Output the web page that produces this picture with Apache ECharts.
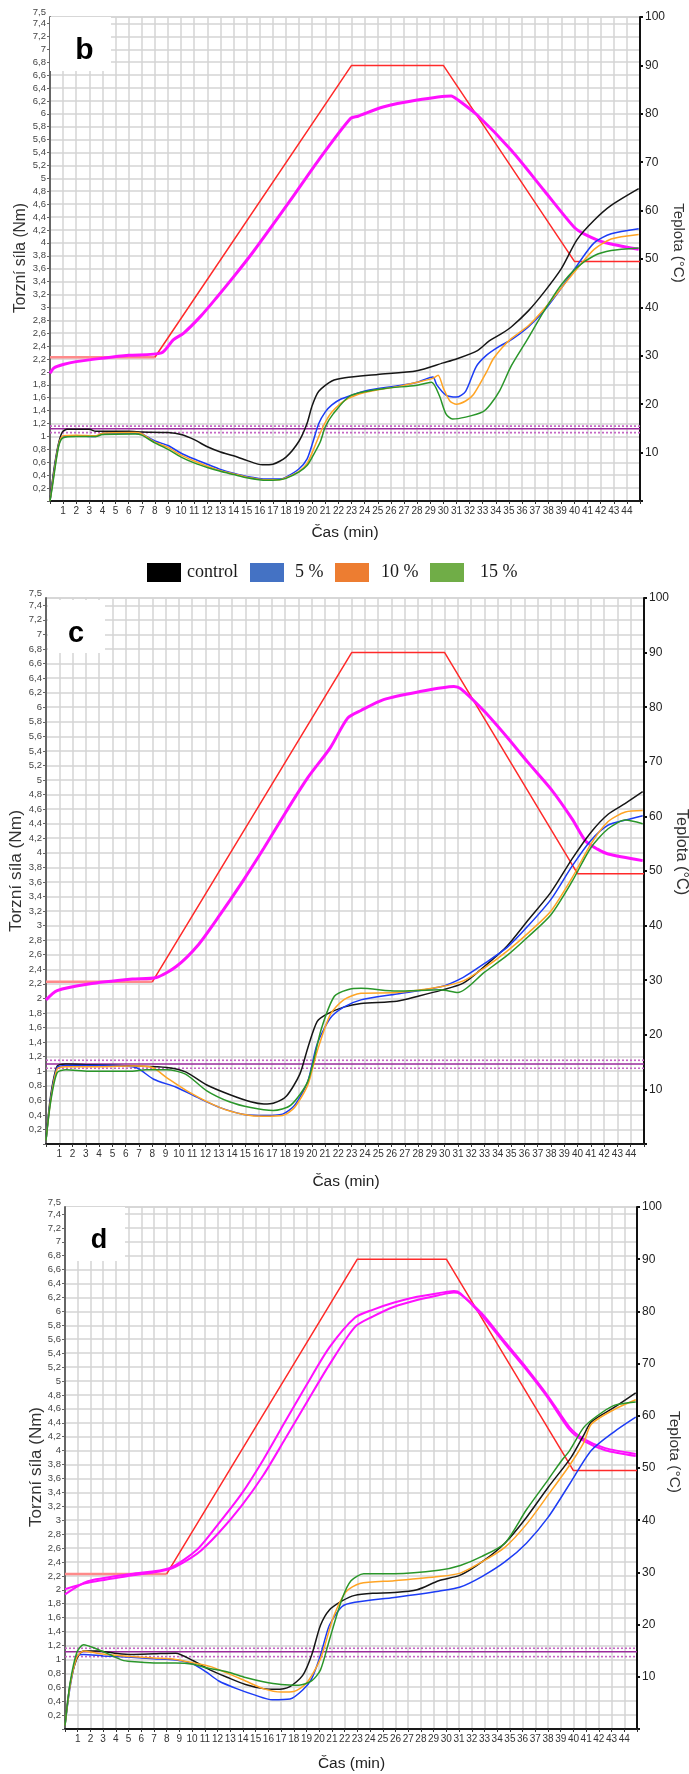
<!DOCTYPE html>
<html><head><meta charset="utf-8">
<script src="https://cdn.jsdelivr.net/npm/echarts@6/dist/echarts.min.js"></script>
<style>html,body{margin:0;padding:0;background:#fff}#c{width:689px;height:1774px}</style>
</head><body><div id="c"></div>
<script>
// ---------- DATA (time in min, torque in Nm, temperature in °C) ----------
const seriesNames = ['control', '5 %', '10 %', '15 %'];
const xMax = 45;
const torqueMax = 7.5;
const setTemp = [[8,29.7],[23,90],[30,90],[40,49.5],[45,49.5]];
const startTemp = [[0,29.7],[8,29.7]];

// panel b
const bControl = [[0,0],[0.2,0.34],[0.45,0.68],[0.7,0.93],[0.95,1.07],[1.3,1.11],[3,1.11],[3.5,1.08],[6,1.08],[7,1.07],[9,1.06],[10,1.03],[11,0.95],[12,0.84],[13,0.76],[14,0.7],[15,0.63],[16.2,0.56],[17,0.57],[18,0.68],[19,0.93],[19.6,1.2],[20,1.48],[20.5,1.7],[21.5,1.86],[22.5,1.91],[25,1.96],[28,2.02],[30,2.14],[31,2.2],[32.6,2.33],[33.5,2.48],[34.5,2.6],[35.2,2.7],[36.5,2.95],[37.7,3.24],[39,3.6],[40.2,4.05],[41.5,4.35],[42.8,4.58],[44.9,4.84]];
const bBlue = [[0,0],[0.2,0.3],[0.45,0.65],[0.7,0.9],[1,1.0],[2,1.01],[3.5,1.0],[4,1.05],[6.5,1.05],[7,1.04],[8,0.93],[9,0.86],[10,0.74],[11,0.65],[12,0.57],[13,0.49],[14,0.43],[15,0.38],[16.5,0.34],[17.5,0.34],[18,0.37],[19,0.5],[19.6,0.65],[20,0.88],[20.5,1.2],[21,1.38],[21.5,1.49],[22.2,1.58],[23,1.64],[24.1,1.71],[26.7,1.79],[28,1.84],[29.2,1.92],[29.5,1.8],[30.2,1.64],[31,1.61],[31.7,1.7],[32.5,2.08],[33.3,2.26],[34.3,2.4],[35.2,2.5],[36.5,2.7],[37.7,2.95],[39,3.3],[40.2,3.65],[41.5,4.0],[42.8,4.14],[44.9,4.22]];
const bOrange = [[0,0],[0.2,0.28],[0.45,0.63],[0.7,0.9],[1,1.01],[2,1.02],[3.5,1.01],[4,1.05],[6.5,1.06],[7,1.04],[8,0.91],[9,0.83],[10,0.71],[11,0.62],[12,0.54],[13,0.47],[14,0.42],[15,0.37],[16.5,0.33],[17.5,0.33],[18,0.36],[19,0.46],[19.6,0.58],[20,0.75],[20.5,1.0],[21,1.22],[21.5,1.38],[22.5,1.56],[24,1.68],[26.7,1.78],[28,1.84],[29.2,1.9],[29.6,1.95],[30,1.75],[30.5,1.55],[31,1.5],[31.7,1.55],[32.3,1.65],[33.3,2.0],[33.8,2.2],[34.5,2.38],[35.2,2.52],[36.5,2.72],[37.7,2.98],[39,3.3],[40.2,3.6],[41.5,3.9],[42.8,4.06],[44.9,4.13]];
const bGreen = [[0,0],[0.2,0.25],[0.45,0.6],[0.7,0.88],[1,0.98],[2,1.0],[3.5,1.0],[4,1.03],[6.5,1.04],[7,1.02],[8,0.9],[9,0.8],[10,0.68],[11,0.59],[12,0.52],[13,0.46],[14,0.41],[15,0.36],[16.5,0.32],[17.5,0.33],[18,0.35],[19,0.45],[19.6,0.55],[20,0.68],[20.6,0.91],[21,1.15],[21.6,1.35],[22.9,1.63],[25.4,1.74],[27.9,1.79],[29.1,1.84],[29.7,1.63],[30.2,1.35],[30.7,1.27],[31.7,1.3],[33,1.38],[33.6,1.5],[34.3,1.71],[35.2,2.1],[36.4,2.5],[37.7,2.95],[39,3.35],[40.2,3.62],[41.5,3.8],[42.8,3.88],[44.9,3.92]];
const bTemp = [[0,26.4],[0.3,27.5],[1,28.2],[2,28.8],[4,29.5],[6,30.1],[8.5,30.6],[9.4,33.3],[10.2,34.7],[11.5,38.2],[12.7,42],[14,46.3],[15.5,51.5],[18.3,62],[20.5,70.5],[22.9,79],[23.5,79.5],[25.4,81.4],[27.9,82.8],[30.6,83.7],[31.1,82.9],[32.6,79.7],[35.2,72.4],[37.7,64.1],[40,56.5],[40.8,55.1],[42.3,53.4],[44.9,52]];
const bRefLines = [1.06, 1.12, 1.16];

// panel c
const cControl = [[0,0.05],[0.35,0.66],[0.84,1.07],[1.5,1.1],[3.2,1.09],[6.5,1.07],[9.1,1.05],[10.5,0.99],[12.1,0.81],[13.8,0.68],[15.4,0.58],[16.4,0.55],[17.1,0.56],[18.1,0.66],[19.1,0.96],[19.7,1.32],[20.4,1.68],[21.1,1.78],[22.4,1.88],[23.7,1.93],[26.4,1.96],[28,2.03],[29.7,2.11],[31.4,2.21],[33,2.44],[34.7,2.72],[36.3,3.08],[38,3.46],[39.6,3.92],[41,4.28],[42.3,4.53],[43.6,4.68],[44.9,4.84]];
const cBlue = [[0,0.05],[0.35,0.62],[0.84,1.05],[1.5,1.08],[5,1.08],[6.5,1.06],[7,1.03],[8.1,0.89],[9.8,0.78],[11.5,0.63],[13.1,0.5],[14.8,0.41],[16.4,0.39],[17.8,0.41],[18.7,0.53],[19.7,0.86],[20.4,1.37],[21.4,1.73],[22.4,1.88],[23.7,1.98],[26.4,2.06],[29.7,2.16],[31.4,2.29],[33,2.48],[34.7,2.7],[36.3,3.0],[38,3.36],[39.6,3.82],[41,4.17],[42.3,4.38],[43.6,4.45],[44.9,4.51]];
const cOrange = [[0,0.05],[0.35,0.6],[0.84,1.03],[1.5,1.06],[3.2,1.06],[6.5,1.07],[8,1.05],[9.1,0.91],[10.8,0.71],[13.1,0.5],[14.8,0.41],[16.4,0.38],[17.8,0.39],[18.7,0.5],[19.7,0.81],[20.4,1.27],[21.4,1.78],[22.4,1.98],[23.7,2.07],[26.4,2.08],[29.7,2.16],[31.4,2.24],[33,2.42],[34.7,2.65],[36.3,2.9],[38,3.2],[39.6,3.66],[41,4.12],[42.3,4.43],[43.6,4.56],[44.9,4.58]];
const cGreen = [[0,0.05],[0.35,0.58],[0.84,0.98],[1.5,1.02],[3.2,1.0],[6.5,1.0],[7.5,1.02],[9.1,1.02],[10.5,0.96],[12.1,0.73],[13.8,0.58],[15.4,0.5],[17.1,0.46],[18.4,0.53],[19.7,0.86],[20.7,1.57],[21.7,2.03],[22.7,2.12],[23.7,2.14],[26.4,2.1],[29.7,2.12],[31,2.08],[33,2.36],[34.7,2.59],[36.3,2.85],[38,3.15],[39.6,3.61],[41,4.07],[42.3,4.33],[43.6,4.45],[44.9,4.4]];
const cTemp = [[0,26.4],[0.84,28.1],[3.2,29.3],[6.5,30.2],[8.3,30.5],[9.8,32.5],[11.5,36.6],[13.1,42],[14.8,48.1],[16.4,54.2],[18.1,61],[19.7,67.1],[21.4,72.6],[22.7,78],[23.7,79.4],[25.4,81.4],[28,82.8],[30.7,83.8],[31.2,83.4],[33,79.2],[34.7,74.5],[36.3,69.8],[38,65],[39.6,59.5],[40.6,55.5],[41.5,54],[42.3,53.1],[44.9,51.9]];
const cRefLines = [1.04, 1.10, 1.15];

// panel d
const dControl = [[0,0.05],[0.4,0.64],[0.93,1.01],[1.45,1.12],[2.5,1.12],[3.9,1.09],[5.2,1.07],[7,1.08],[8.7,1.09],[10.1,0.98],[11.4,0.85],[12.8,0.74],[14.2,0.64],[15.6,0.58],[16.6,0.57],[17.7,0.61],[18.7,0.77],[19.4,1.06],[20.1,1.49],[20.8,1.71],[21.8,1.84],[22.8,1.92],[24.2,1.95],[25.9,1.96],[27.7,2.0],[29.4,2.13],[31.1,2.21],[32.8,2.4],[34.6,2.67],[36.3,3.04],[38,3.47],[39.8,3.9],[40.8,4.22],[41.4,4.41],[43.2,4.62],[44.9,4.83]];
const dBlue = [[0,0.05],[0.4,0.6],[0.93,1.05],[1.45,1.07],[3,1.05],[5.2,1.03],[7,1.01],[8.7,0.99],[10.1,0.93],[11.1,0.82],[12.1,0.69],[13.5,0.58],[14.9,0.49],[16.3,0.42],[17.7,0.43],[18.7,0.56],[19.4,0.72],[20.1,1.06],[20.8,1.49],[21.8,1.76],[22.8,1.82],[25.9,1.89],[29.4,1.98],[31.1,2.04],[32.8,2.19],[34.6,2.4],[36.3,2.67],[38,3.04],[39.7,3.52],[41.4,4.0],[43.2,4.27],[44.9,4.48]];
const dOrange = [[0,0.05],[0.4,0.62],[0.93,1.03],[1.45,1.12],[2.5,1.09],[4,1.06],[5.2,1.04],[7,1.02],[8.7,1.0],[10.1,0.95],[11.4,0.9],[12.8,0.8],[14.2,0.69],[15.6,0.58],[17,0.53],[18,0.54],[19,0.66],[20.1,1.01],[21.1,1.6],[22.1,1.97],[23.2,2.09],[25.9,2.13],[29.4,2.19],[31.1,2.24],[32.8,2.4],[34.6,2.61],[36.3,2.94],[38,3.36],[39.7,3.79],[40.8,4.11],[41.4,4.38],[43.2,4.59],[44.9,4.73]];
const dGreen = [[0,0.05],[0.4,0.66],[0.93,1.1],[1.45,1.21],[2.5,1.15],[3.5,1.07],[4.5,0.99],[5.2,0.97],[7,0.95],[8.7,0.95],[10.1,0.93],[11.1,0.88],[12.8,0.82],[14.2,0.74],[15.6,0.68],[17,0.64],[18.4,0.63],[19.4,0.69],[20.1,0.85],[20.8,1.28],[21.8,1.87],[22.5,2.13],[23.5,2.23],[25.9,2.23],[29.4,2.28],[31.1,2.35],[32.8,2.48],[34.6,2.67],[36.3,3.15],[38,3.58],[39,3.84],[39.7,4.0],[40.8,4.33],[41.8,4.49],[43.2,4.65],[44.9,4.7]];
const dTemp1 = [[0,25.8],[1.8,28.3],[5.2,29.7],[8.2,30.8],[10.4,34.4],[12.1,39.4],[13.9,45.1],[15.6,51.6],[17.3,58.8],[19,65.9],[20.8,73.1],[22.8,78.8],[24.2,80.3],[25.9,81.7],[27.7,82.8],[29.4,83.5],[30.6,83.9],[31.1,83.5],[32.8,79.2],[34.6,73.8],[36.3,68.8],[38,63.4],[39.7,57.3],[40.8,55.2],[42.5,53.4],[44.9,52.3]];
const dTemp2 = [[0,26.8],[1.8,28.0],[5.2,29.4],[8.2,30.6],[10.4,33.6],[12.1,37.6],[13.9,42.8],[15.6,48.6],[17.3,55.5],[19,62.5],[20.8,69.8],[22.8,77],[24.2,79],[25.9,80.9],[27.7,82.2],[29.4,83.1],[30.6,83.6],[31.1,83.3],[32.8,79.6],[34.6,74.2],[36.3,69.2],[38,63.8],[39.7,57.8],[40.8,55.6],[42.5,53.8],[44.9,52.7]];
const dRefLines = [1.04, 1.11, 1.16];

// ---------- STYLE / LAYOUT ----------
const torqueColors = ['#161616', '#1c3cf5', '#ffa424', '#2a962a'];
const legendColors = ['#000000', '#4472c4', '#ed7d31', '#70ad47'];
const panels = [
  {letter:'b', grid:{left:50, right:49, top:17, height:484}, torque:[bControl,bBlue,bOrange,bGreen], temps:[bTemp], refs:bRefLines,
   box:[50,17,61,54], letterPos:[84.5,50.5,30], yName:[20.5,258,15.6], tName:[678,243,15], xName:[345,533]},
  {letter:'c', grid:{left:46, right:45, top:598, height:546}, torque:[cControl,cBlue,cOrange,cGreen], temps:[cTemp], refs:cRefLines,
   box:[48,600,57,53], letterPos:[76,633.5,29], yName:[16.5,871,17.3], tName:[681,852,16.3], xName:[346,1182]},
  {letter:'d', grid:{left:65, right:52, top:1207, height:522}, torque:[dControl,dBlue,dOrange,dGreen], temps:[dTemp1,dTemp2], refs:dRefLines,
   box:[66,1207,59,54], letterPos:[99,1241,27], yName:[36,1467,17], tName:[674.5,1452,15.5], xName:[351.5,1764]}
];

const gridColor = '#d4d4d4';
const grids = [], xAxes = [], yAxes = [], series = [], graphics = [];
const fmtNm = v => { if (v <= 0) return ''; const r = Math.round(v * 10) / 10; return String(r).replace('.', ','); };
const labelFont = 'Liberation Sans, Arial';

panels.forEach((p, gi) => {
  grids.push(Object.assign({containLabel:false}, p.grid));
  xAxes.push({gridIndex:gi, type:'value', min:0, max:xMax, interval:1,
    axisLine:{show:true, onZero:false, lineStyle:{color:'#1a1a1a', width:2}},
    axisTick:{show:true, length:3, lineStyle:{color:'#333'}},
    axisLabel:{fontSize:10, color:'#333', margin:5, fontFamily:labelFont,
      formatter: v => (v >= 1 && v <= 44) ? String(v) : ''},
    splitLine:{show:true, lineStyle:{color:gridColor, width:1.5}}});
  // left torque axis (0,2 steps)
  yAxes.push({gridIndex:gi, type:'value', position:'left', min:0, max:torqueMax, interval:0.2,
    axisLine:{show:true, onZero:false, lineStyle:{color:'#666', width:2}},
    axisTick:{show:true, length:3, lineStyle:{color:'#666'}},
    axisLabel:{fontSize:9.5, color:'#444', margin:4, fontFamily:labelFont, formatter: fmtNm},
    splitLine:{show:true, lineStyle:{color:gridColor, width:1.5}}});
  // right temperature axis
  yAxes.push({gridIndex:gi, type:'value', position:'right', min:0, max:100, interval:10,
    axisLine:{show:true, onZero:false, lineStyle:{color:'#111', width:2}},
    axisTick:{show:true, length:3, lineStyle:{color:'#111', width:2}},
    axisLabel:{fontSize:12, color:'#222', margin:5, fontFamily:labelFont, formatter: v => v === 0 ? '' : String(v)},
    splitLine:{show:false}});
  // helper left axis carrying only the top "7,5" label and top grid line
  yAxes.push({gridIndex:gi, type:'value', position:'left', min:0, max:torqueMax, interval:torqueMax,
    axisLine:{show:false}, axisTick:{show:false},
    axisLabel:{fontSize:9.5, color:'#444', margin:4, fontFamily:labelFont, verticalAlign:'bottom',
      formatter: v => v >= torqueMax ? fmtNm(v) : ''},
    splitLine:{show:true, lineStyle:{color:gridColor, width:1.5}}});

  const L = gi * 3, R = gi * 3 + 1;
  // reference (purple) lines
  p.refs.forEach((v, k) => {
    series.push({type:'line', name:'ref'+gi+'_'+k, xAxisIndex:gi, yAxisIndex:L, data:[[0,v],[xMax,v]],
      symbol:'none', silent:true, animation:false, z:2,
      lineStyle: k === 1 ? {color:'#9a2c9c', width:1.5, type:'solid'} : {color:'#c465c4', width:1.6, type:[2,2]}});
  });
  // set temperature
  series.push({type:'line', name:'start'+gi, xAxisIndex:gi, yAxisIndex:R, data:startTemp, symbol:'none', animation:false, z:3,
    lineStyle:{color:'#ff8a8a', width:2.5}});
  series.push({type:'line', name:'set'+gi, xAxisIndex:gi, yAxisIndex:R, data:setTemp, symbol:'none', animation:false, z:3,
    lineStyle:{color:'#ff2a2a', width:1.5}});
  // measured temperature
  p.temps.forEach((t, k) => {
    series.push({type:'line', name:'temp'+gi+'_'+k, xAxisIndex:gi, yAxisIndex:R, data:t, symbol:'none', smooth:0.25,
      animation:false, z:4, lineStyle:{color:'#ff10ff', width: p.temps.length > 1 ? 2 : 3}});
  });
  // torque curves
  p.torque.forEach((d, k) => {
    series.push({type:'line', name:seriesNames[k], xAxisIndex:gi, yAxisIndex:L, data:d, symbol:'none', showSymbol:false,
      smooth:0.25, animation:false, z:5,
      lineStyle:{color:torqueColors[k], width:1.5}, itemStyle:{color:torqueColors[k]}});
  });

  // letter box and titles
  graphics.push({type:'rect', z:100, shape:{x:p.box[0], y:p.box[1], width:p.box[2], height:p.box[3]}, style:{fill:'#fff'}});
  graphics.push({type:'text', z:101, x:p.letterPos[0], y:p.letterPos[1],
    style:{text:p.letter, fill:'#000', font:'bold '+p.letterPos[2]+'px "Liberation Sans", Arial', align:'center', verticalAlign:'middle'}});
  graphics.push({type:'text', z:101, x:p.yName[0], y:p.yName[1], rotation:Math.PI/2,
    style:{text:'Torzní síla (Nm)', fill:'#333', font:p.yName[2]+'px "Liberation Sans", Arial', align:'center', verticalAlign:'middle'}});
  graphics.push({type:'text', z:101, x:p.tName[0], y:p.tName[1], rotation:-Math.PI/2,
    style:{text:'Teplota (°C)', fill:'#333', font:p.tName[2]+'px "Liberation Sans", Arial', align:'center', verticalAlign:'middle'}});
  graphics.push({type:'text', z:101, x:p.xName[0], y:p.xName[1],
    style:{text:'Čas (min)', fill:'#222', font:'15.5px "Liberation Sans", Arial', align:'center', verticalAlign:'middle'}});
});

// legend: one component per item so each sits where it is in the reference
const legendLeft = [142, 245, 330, 425];
const legendPad = [1, 6, 7, 11];
const legends = seriesNames.map((n, k) => ({
  left: legendLeft[k], top: 558, orient:'horizontal', icon:'rect', itemWidth:34, itemHeight:19, selectedMode:false,
  data:[{name:n, itemStyle:{color:legendColors[k], borderWidth:0}}],
  textStyle:{fontFamily:'"Liberation Serif", "Times New Roman", serif', fontSize:18, color:'#1a1a1a', padding:[0,0,0,legendPad[k]]}
}));

const chart = echarts.init(document.getElementById('c'), null, {renderer:'canvas'});
chart.setOption({
  animation:false,
  backgroundColor:'#fff',
  grid:grids, xAxis:xAxes, yAxis:yAxes, series:series,
  legend:legends,
  graphic:{elements:graphics}
});
</script></body></html>
